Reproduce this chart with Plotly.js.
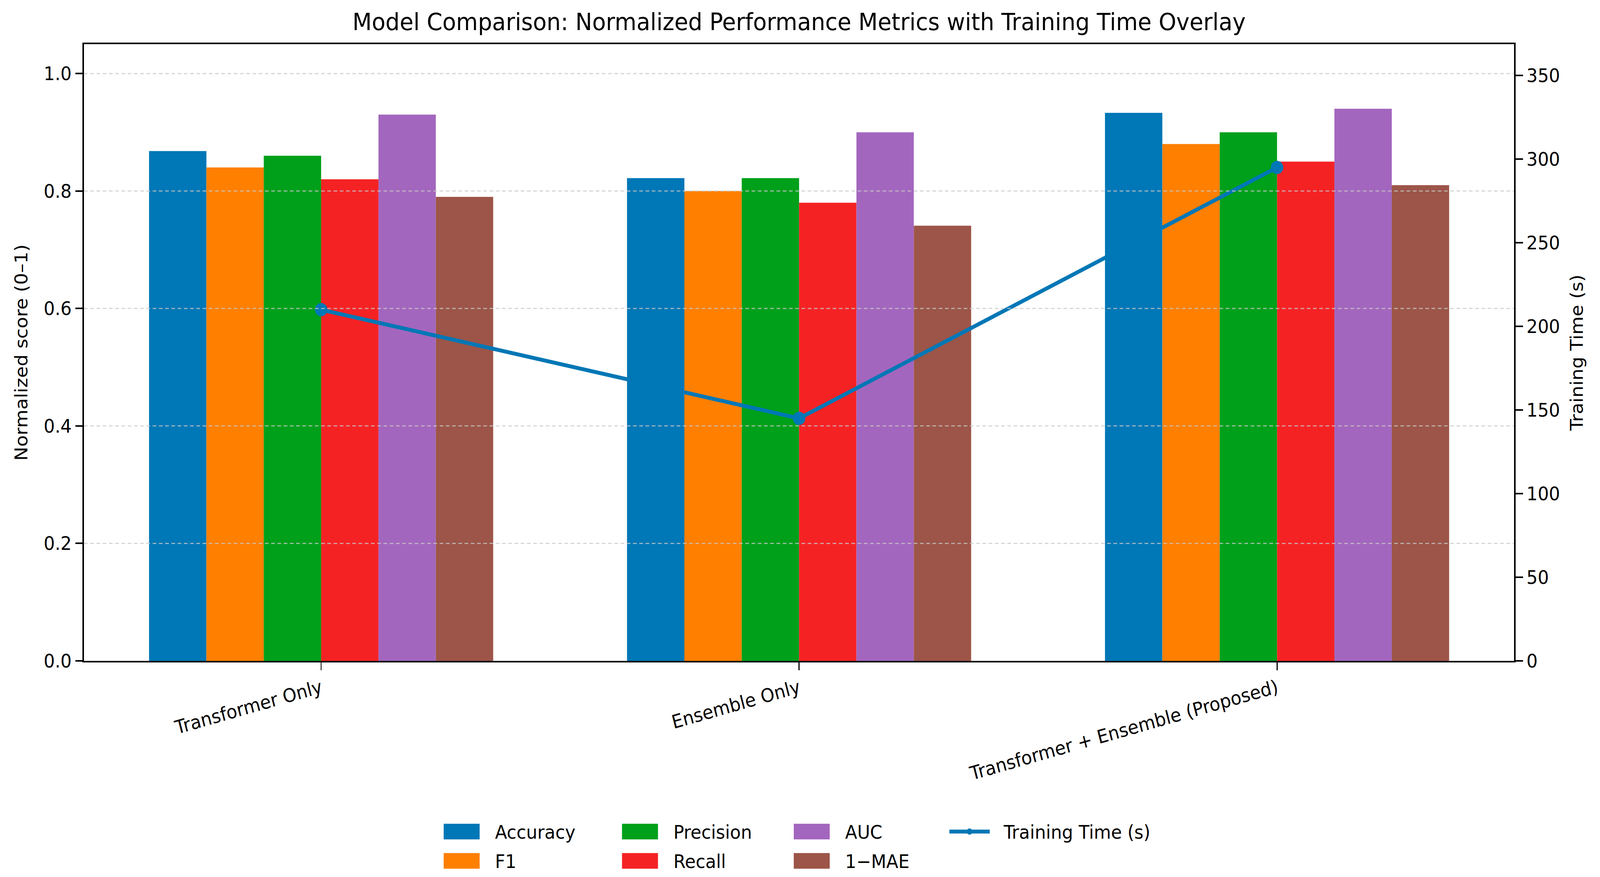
<!DOCTYPE html>
<html>
<head>
<meta charset="utf-8">
<script src="https://cdn.plot.ly/plotly-3.0.1.min.js"></script>
<style>
html,body{margin:0;padding:0;background:#fff;overflow:hidden;}
#wrap{position:absolute;left:0;top:0;width:4360px;height:2244px;transform-origin:0 0;}
#chart{width:4360px;height:2244px;}
</style>
</head>
<body>
<div id="wrap"><div id="chart"></div></div>
<script>
// ---- data ----
const models = ["Transformer Only", "Ensemble Only", "Transformer + Ensemble (Proposed)"];
const metricNames = ["Accuracy", "F1", "Precision", "Recall", "AUC", "1\u2212MAE"];
const accuracy    = [0.868, 0.822, 0.933];
const f1          = [0.840, 0.800, 0.880];
const precision   = [0.860, 0.822, 0.900];
const recall      = [0.820, 0.780, 0.850];
const auc         = [0.930, 0.900, 0.940];
const oneMinusMae = [0.790, 0.741, 0.810];
const trainingTime = [210, 145, 295];
const leftTicks  = [0, 0.2, 0.4, 0.6, 0.8, 1.0];
const rightTicks = [0, 50, 100, 150, 200, 250, 300, 350];

// ---- fit the 4360x2244 drawing to the actual window ----
(function fit() {
  const W = window.innerWidth || 4360, H = window.innerHeight || 2244;
  document.getElementById("wrap").style.transform = "scale(" + (W / 4360) + "," + (H / 2244) + ")";
})();

// ---- style ----
const colors = ["#0077b6", "#ff7f00", "#00a01a", "#f52224", "#a366be", "#9c5548"];
const metricSeries = [accuracy, f1, precision, recall, auc, oneMinusMae];
const legendOf = ["legend", "legend2", "legend", "legend2", "legend", "legend2"];
const legendWidths = [281, 281, 263, 263, 227, 227];
const FONT = "DejaVu Sans, Arial, sans-serif";

const traces = metricSeries.map((vals, i) => ({
  type: "bar", name: metricNames[i], x: models, y: vals,
  marker: {color: colors[i], line: {width: 0}},
  legend: legendOf[i], legendwidth: legendWidths[i], hoverinfo: "skip"
}));
traces.push({
  type: "scatter", mode: "lines+markers", name: "Training Time (s)",
  x: models, y: trainingTime, yaxis: "y2",
  line: {color: "#0077b6", width: 10}, marker: {color: "#0077b6", size: 34},
  legend: "legend", legendwidth: 440, hoverinfo: "skip"
});

const gridShapes = leftTicks.filter(v => v > 0).map(v => ({
  type: "line", xref: "paper", yref: "y", x0: 0, x1: 1, y0: v, y1: v, layer: "above",
  line: {color: "rgba(200,200,200,0.75)", width: 3, dash: "10px,7px"}
}));

const legendCommon = {
  orientation: "h", xanchor: "left", yanchor: "middle",
  font: {family: FONT, size: 48, color: "#000"},
  itemwidth: 190, entrywidthmode: "pixels", bgcolor: "rgba(0,0,0,0)",
  itemclick: false, itemdoubleclick: false
};

const axisCommon = {ticks: "outside", ticklen: 20, tickwidth: 4, tickcolor: "#000", showline: true,
  linecolor: "#000", linewidth: 4, showgrid: false, zeroline: false,
  tickfont: {family: FONT, size: 48, color: "#000"}, automargin: false};

const layout = {
  width: 4360, height: 2244, paper_bgcolor: "#fff", plot_bgcolor: "#fff",
  font: {family: FONT, size: 48, color: "#000"},
  margin: {l: 229, r: 234, t: 113, b: 553, autoexpand: false},
  title: {text: "Model Comparison: Normalized Performance Metrics with Training Time Overlay",
    font: {family: FONT, size: 61, color: "#000"}, x: 0.5, xref: "paper", xanchor: "center",
    y: 1 - 56 / 2244, yref: "container", yanchor: "middle"},
  barmode: "group", bargap: 0.28, bargroupgap: 0, shapes: gridShapes,
  xaxis: Object.assign({}, axisCommon, {type: "category", range: [-0.496, 2.496], tickangle: -15, tickwidth: 3, mirror: true}),
  yaxis: Object.assign({}, axisCommon, {range: [0, 1.05], tickvals: leftTicks, tickformat: ".1f",
    title: {text: "Normalized score (0\u20131)", font: {family: FONT, size: 48, color: "#000"}, standoff: 30}}),
  yaxis2: Object.assign({}, axisCommon, {overlaying: "y", side: "right", range: [0, 368.75], tickvals: rightTicks,
    title: {text: "Training Time (s)", font: {family: FONT, size: 48, color: "#000"}, standoff: 30}}),
  legend: Object.assign({}, legendCommon, {x: (1149 - 229) / 3897, y: (1691 - 2128) / 1578}),
  legend2: Object.assign({}, legendCommon, {x: (1149 - 229) / 3897, y: (1691 - 2203) / 1578}),
  showlegend: true
};

function toSvg(el, x, y) {
  const m = el.getCTM();
  return {x: m.a * x + m.c * y + m.e, y: m.b * x + m.d * y + m.f};
}

// Legend items: text starts at x=200 (itemwidth+10), symbols are centred at x=100.
// Restyle the handles like matplotlib: 98x40 colour patch, ~110 px line sample.
const BAR_D = "M-40,-20H58V20H-40Z";
const LINE_D = "M52,0L162,0";
function styleItem(item) {
  const line = item.querySelector("path.js-line");
  if (!line) {
    const p = item.querySelector("path");
    if (!p) return;
    if (p.getAttribute("transform") !== "translate(100,0)") p.setAttribute("transform", "translate(100,0)");
    if (p.getAttribute("d") !== BAR_D) p.setAttribute("d", BAR_D);
    if (p.style.strokeWidth !== "0px" && p.style.strokeWidth !== "0") p.style.strokeWidth = "0";
    return;
  }
  if (line.getAttribute("d") !== LINE_D) line.setAttribute("d", LINE_D);
  const target = toSvg(line, 107, 0);
  item.querySelectorAll("path").forEach(function (mk) {
    if (mk === line || mk.classList.contains("js-line")) return;
    const bb = mk.getBBox();
    const cur = toSvg(mk, bb.x + bb.width / 2, bb.y + bb.height / 2);
    const dx = target.x - cur.x, dy = target.y - cur.y;
    if (Math.abs(dx) < 0.5 && Math.abs(dy) < 0.5) return;
    mk.setAttribute("transform", "translate(" + dx.toFixed(2) + "," + dy.toFixed(2) + ") " + (mk.getAttribute("transform") || ""));
  });
}

const gdEl = document.getElementById("chart");
function styleLegend() {
  gdEl.querySelectorAll("g.traces").forEach(function (item) {
    try { styleItem(item); } catch (e) { /* keep going */ }
  });
}

// re-apply whenever Plotly (re)draws any part of the legend
let busy = false;
const obs = new MutationObserver(function () {
  if (busy) return;
  busy = true;
  try { styleLegend(); } finally { obs.takeRecords(); busy = false; }
});
obs.observe(gdEl, {childList: true, subtree: true, attributes: true});

Plotly.newPlot(gdEl, traces, layout, {staticPlot: true, displayModeBar: false}).then(function () {
  styleLegend();
  setTimeout(styleLegend, 50);
  setTimeout(styleLegend, 300);
});
</script>
</body>
</html>
